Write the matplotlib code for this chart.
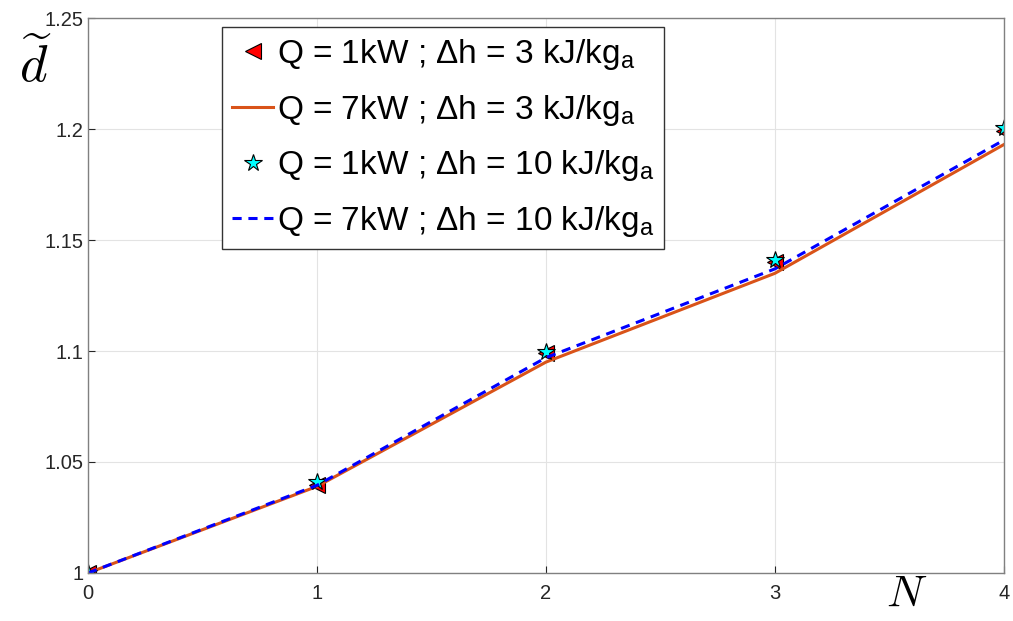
import matplotlib
matplotlib.use("Agg")
import matplotlib.pyplot as plt
import numpy as np

plt.rcParams['font.family'] = ['Liberation Sans', 'DejaVu Sans']
plt.rcParams['mathtext.fontset'] = 'custom'
plt.rcParams['mathtext.rm'] = 'Liberation Sans'
plt.rcParams['mathtext.it'] = 'Liberation Sans:italic'

# data
N = [0, 1, 2, 3, 4]
d_q1_dh3 = [1.0, 1.0395, 1.099, 1.140, 1.199]
d_q7_dh3 = [1.0, 1.039, 1.095, 1.135, 1.193]
d_q1_dh10 = [1.0, 1.041, 1.0995, 1.141, 1.2005]
d_q7_dh10 = [1.0, 1.0395, 1.097, 1.137, 1.195]

labels = ['Q = 1kW ; \u0394h = 3 kJ/kg$_{\\mathrm{a}}$',
          'Q = 7kW ; \u0394h = 3 kJ/kg$_{\\mathrm{a}}$',
          'Q = 1kW ; \u0394h = 10 kJ/kg$_{\\mathrm{a}}$',
          'Q = 7kW ; \u0394h = 10 kJ/kg$_{\\mathrm{a}}$']

fig = plt.figure(figsize=(10.13, 6.21), dpi=100)
ax = fig.add_axes([0.0869, 0.0773, 0.9041, 0.8937])

ax.plot(N, d_q1_dh3, linestyle='none', marker='<', markersize=11, mfc='red', mec='black', mew=0.8,
        label=labels[0])
ax.plot(N, d_q7_dh3, color='#D95319', lw=2.2, label=labels[1])
ax.plot(N, d_q1_dh10, linestyle='none', marker='*', markersize=13, mfc='cyan', mec='black', mew=0.8,
        label=labels[2])
ax.plot(N, d_q7_dh10, color='blue', lw=2.2, linestyle=(0, (3, 2.2)), label=labels[3])

ax.set_xlim(0, 4)
ax.set_ylim(1, 1.25)
ax.set_xticks([0, 1, 2, 3, 4])
ax.set_yticks([1, 1.05, 1.1, 1.15, 1.2, 1.25])
ax.set_yticklabels(['1', '1.05', '1.1', '1.15', '1.2', '1.25'])
ax.grid(True, color='#e3e3e3', lw=0.8)
ax.set_axisbelow(True)
ax.tick_params(direction='in', length=5, width=0.8, color='#262626', labelcolor='#262626',
               labelsize=14.5, pad=8)
ax.tick_params(axis='y', pad=3)
for s in ax.spines.values():
    s.set_color('#808080')
    s.set_linewidth(1.0)

fig.text(0.035, 0.893, r'$\widetilde{d}$', fontsize=38, math_fontfamily='cm', ha='center', va='center')
fig.text(0.895, 0.042, r'$N$', fontsize=32, math_fontfamily='cm', ha='center', va='center')

leg = ax.legend(loc='upper left', bbox_to_anchor=(0.146, 0.984), borderaxespad=0, fontsize=24,
                fancybox=False, framealpha=1, edgecolor='#333333', handlelength=1.25,
                handletextpad=0.1, labelspacing=0.62, borderpad=0.3)
leg.get_frame().set_linewidth(1.0)

fig.savefig('out.png', dpi=100)
